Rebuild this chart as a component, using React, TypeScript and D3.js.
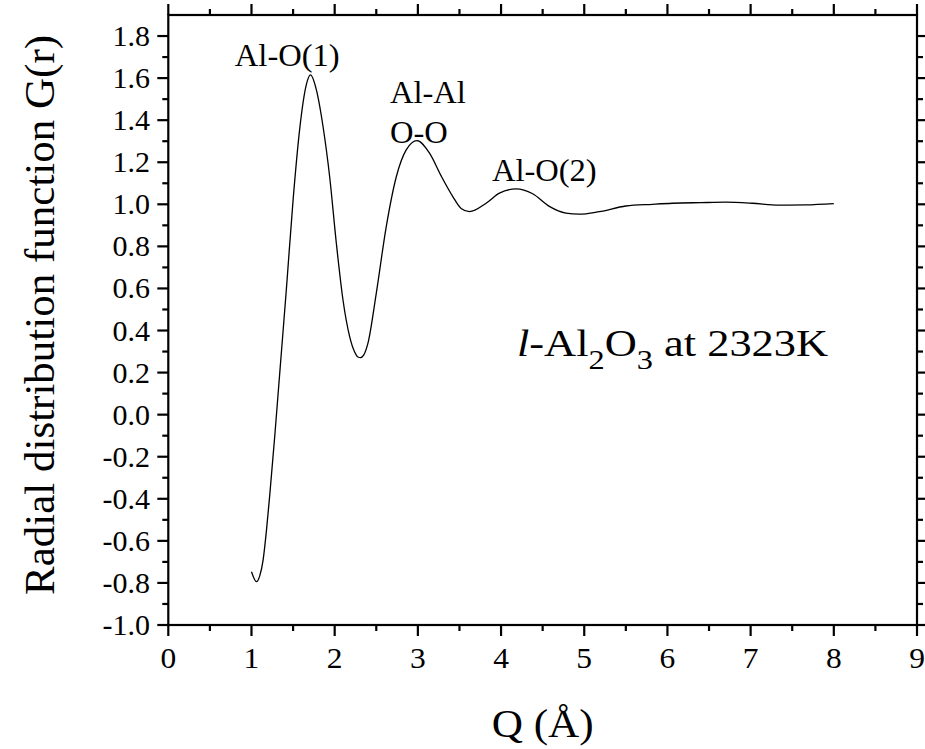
import React from "react";
import * as d3 from "d3";

const qValues = [1.0, 1.06, 1.1, 1.14, 1.18, 1.22, 1.28, 1.34, 1.42, 1.5, 1.58, 1.66, 1.71, 1.78, 1.86, 1.94, 2.02, 2.1, 2.18, 2.24, 2.28, 2.31, 2.35, 2.4, 2.5, 2.62, 2.74, 2.86, 2.99, 3.14, 3.28, 3.42, 3.52, 3.62, 3.82, 3.98, 4.18, 4.38, 4.58, 4.78, 4.94, 5.18, 5.5, 5.82, 6.06, 6.4, 6.7, 7.02, 7.34, 7.66, 8.0];
const gValues = [-0.747, -0.794, -0.765, -0.69, -0.55, -0.38, -0.1, 0.2, 0.6, 1.02, 1.36, 1.57, 1.615, 1.544, 1.37, 1.13, 0.815, 0.545, 0.371, 0.298, 0.274, 0.271, 0.284, 0.34, 0.577, 0.894, 1.13, 1.259, 1.303, 1.243, 1.135, 1.037, 0.98, 0.965, 1.005, 1.053, 1.073, 1.05, 0.99, 0.958, 0.953, 0.965, 0.992, 1.0, 1.005, 1.008, 1.01, 1.005, 0.996, 0.997, 1.003];

const xMajorTicks = [0, 1, 2, 3, 4, 5, 6, 7, 8, 9];
const xMinorTicks = [0.5, 1.5, 2.5, 3.5, 4.5, 5.5, 6.5, 7.5, 8.5];
const yMajorTicks = [-1.0, -0.8, -0.6, -0.4, -0.2, 0.0, 0.2, 0.4, 0.6, 0.8, 1.0, 1.2, 1.4, 1.6, 1.8];
const yMinorTicks = [-0.9, -0.7, -0.5, -0.3, -0.1, 0.1, 0.3, 0.5, 0.7, 0.9, 1.1, 1.3, 1.5, 1.7];

const peakLabels = [
  { text: "Al-O(1)", q: 0.8, g: 1.658 },
  { text: "Al-Al", q: 2.665, g: 1.482 },
  { text: "O-O", q: 2.665, g: 1.292 },
  { text: "Al-O(2)", q: 3.89, g: 1.112 },
];

const FONT = "'Liberation Serif', 'Times New Roman', serif";

function SText({ x, y, size, anchor = "start", sx = 1, rotate = 0, children }: any) {
  return (
    <text
      transform={`translate(${x},${y}) scale(${sx},1)${rotate ? ` rotate(${rotate})` : ""}`}
      fontSize={size}
      fontFamily={FONT}
      textAnchor={anchor}
      fill="#000"
    >
      {children}
    </text>
  );
}

export default function App() {
  const W = 925, H = 749;
  const x = d3.scaleLinear().domain([0, 9]).range([168.3, 917]);
  const y = d3.scaleLinear().domain([-1, 1.9]).range([625, 15]);
  const data = qValues.map((q, i) => [q, gValues[i]] as [number, number]);
  const line = d3
    .line<[number, number]>()
    .x((d) => x(d[0]))
    .y((d) => y(d[1]))
    .curve(d3.curveMonotoneX);

  const x0 = x(0), x1 = x(9), yB = y(-1), yT = y(1.9);
  const majorLen = 11, minorLen = 6;

  return (
    <svg width={W} height={H} style={{ position: "absolute", left: 0, top: 0, background: "#fff" }}>
      <rect width={W} height={H} fill="#fff" />
      <path d={line(data) || ""} fill="none" stroke="#000" strokeWidth={1.3} />

      <rect x={x0} y={yT} width={x1 - x0} height={yB - yT} fill="none" stroke="#000" strokeWidth={2.2} />

      {xMajorTicks.map((t) => (
        <g key={"xm" + t}>
          <line x1={x(t)} x2={x(t)} y1={yB} y2={yB + majorLen} stroke="#000" strokeWidth={2.2} />
          <line x1={x(t)} x2={x(t)} y1={yT} y2={yT - majorLen} stroke="#000" strokeWidth={2.2} />
          <SText x={x(t)} y={668} size={30} anchor="middle" sx={1.05}>{String(t)}</SText>
        </g>
      ))}
      {xMinorTicks.map((t) => (
        <g key={"xn" + t}>
          <line x1={x(t)} x2={x(t)} y1={yB} y2={yB + minorLen} stroke="#000" strokeWidth={2.2} />
          <line x1={x(t)} x2={x(t)} y1={yT} y2={yT - minorLen} stroke="#000" strokeWidth={2.2} />
        </g>
      ))}

      {yMajorTicks.map((t) => (
        <g key={"ym" + t}>
          <line x1={x0} x2={x0 - majorLen} y1={y(t)} y2={y(t)} stroke="#000" strokeWidth={2.2} />
          <line x1={x1} x2={x1 + majorLen} y1={y(t)} y2={y(t)} stroke="#000" strokeWidth={2.2} />
          <SText x={150} y={y(t) + 10} size={30} anchor="end" sx={1.0}>{t.toFixed(1)}</SText>
        </g>
      ))}
      {yMinorTicks.map((t) => (
        <g key={"yn" + t}>
          <line x1={x0} x2={x0 - minorLen} y1={y(t)} y2={y(t)} stroke="#000" strokeWidth={2.2} />
          <line x1={x1} x2={x1 + minorLen} y1={y(t)} y2={y(t)} stroke="#000" strokeWidth={2.2} />
        </g>
      ))}

      {peakLabels.map((p) => (
        <SText key={p.text} x={x(p.q)} y={y(p.g)} size={31} sx={1.05}>{p.text}</SText>
      ))}

      <SText x={517} y={356} size={37} sx={1.2}>
        <tspan fontStyle="italic">l</tspan>
        <tspan>-Al</tspan>
        <tspan fontSize={27} dy={13}>2</tspan>
        <tspan dy={-13}>O</tspan>
        <tspan fontSize={27} dy={13}>3</tspan>
        <tspan dy={-13}> at 2323K</tspan>
      </SText>

      <SText x={(x0 + x1) / 2} y={737} size={40} anchor="middle" sx={1.08}>Q (Å)</SText>
      <SText x={54} y={315} size={43} anchor="middle" sx={1.0} rotate={-90}>
        Radial distribution function G(r)
      </SText>
    </svg>
  );
}
